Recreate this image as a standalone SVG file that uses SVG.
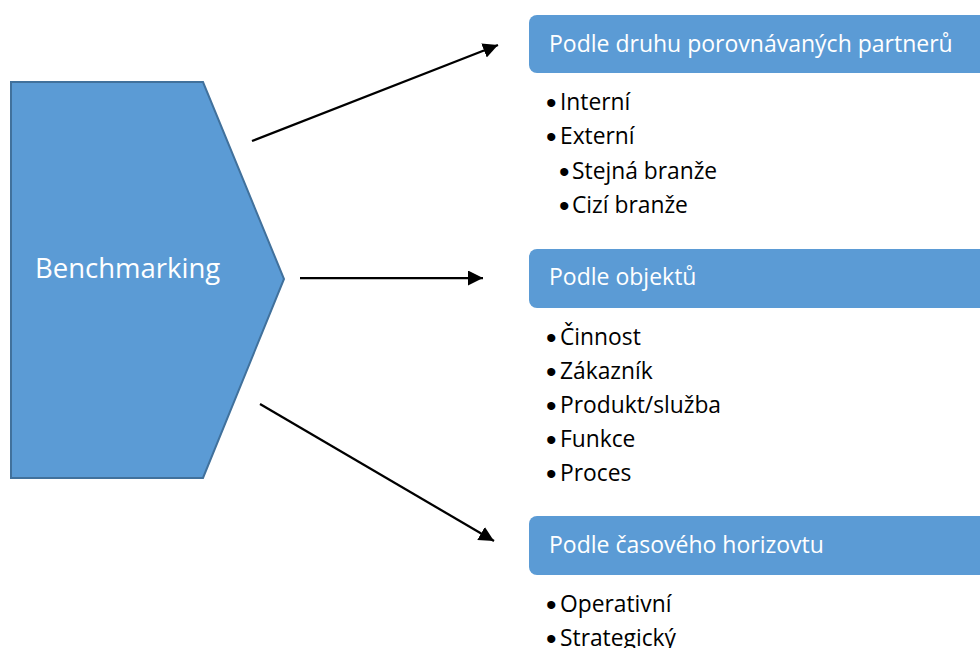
<svg xmlns="http://www.w3.org/2000/svg" width="980" height="648" viewBox="0 0 980 648">
  <defs>
    <marker id="arrowhead" markerUnits="userSpaceOnUse" markerWidth="16" markerHeight="16" refX="15" refY="7.5" orient="auto">
      <path d="M0,0 L15,7.5 L0,15 Z" fill="#000"/>
    </marker>
    <style>
      .shape { fill: #5B9BD5; }
      .main { stroke: #41719C; stroke-width: 2; }
      .head { font-family: "Open Sans", "Liberation Sans", sans-serif; font-size: 23px; fill: #FFFFFF; }
      .title { font-family: "Open Sans", "Liberation Sans", sans-serif; font-size: 27.5px; fill: #FFFFFF; }
      .item { font-family: "Open Sans", "Liberation Sans", sans-serif; font-size: 22.8px; fill: #000000; }
      .dot { font-family: "Liberation Sans", sans-serif; font-size: 30px; }
      .conn { stroke: #000; stroke-width: 2.25; fill: none; marker-end: url(#arrowhead); }
    </style>
  </defs>
  <rect width="980" height="648" fill="#FFFFFF"/>

  <!-- central chevron -->
  <g id="benchmarking">
    <polygon class="shape main" points="11,82 203,82 284,279 203,478 11,478"/>
    <text class="title" x="35" y="278">Benchmarking</text>
  </g>

  <!-- arrows -->
  <g id="connectors">
    <line class="conn" x1="252" y1="141" x2="498" y2="45"/>
    <line class="conn" x1="300" y1="278" x2="483" y2="278"/>
    <line class="conn" x1="260" y1="404" x2="494" y2="541"/>
  </g>

  <!-- category 1 -->
  <g id="partneri">
    <rect class="shape" x="529" y="15" width="470" height="58" rx="8"/>
    <text class="head" x="549" y="52">Podle druhu porovnávaných partnerů</text>
    <text class="item" y="110"><tspan class="dot" x="546" dy="2.5">•</tspan><tspan x="560" dy="-2.5">Interní</tspan></text>
    <text class="item" y="144"><tspan class="dot" x="546" dy="2.5">•</tspan><tspan x="560" dy="-2.5">Externí</tspan></text>
    <text class="item" y="179"><tspan class="dot" x="559" dy="2.5">•</tspan><tspan x="572" dy="-2.5">Stejná branže</tspan></text>
    <text class="item" y="213"><tspan class="dot" x="559" dy="2.5">•</tspan><tspan x="572" dy="-2.5">Cizí branže</tspan></text>
  </g>

  <!-- category 2 -->
  <g id="objekty">
    <rect class="shape" x="529" y="249" width="470" height="59" rx="8"/>
    <text class="head" x="549" y="285">Podle objektů</text>
    <text class="item" y="345"><tspan class="dot" x="546" dy="2.5">•</tspan><tspan x="560" dy="-2.5">Činnost</tspan></text>
    <text class="item" y="379"><tspan class="dot" x="546" dy="2.5">•</tspan><tspan x="560" dy="-2.5">Zákazník</tspan></text>
    <text class="item" y="413"><tspan class="dot" x="546" dy="2.5">•</tspan><tspan x="560" dy="-2.5">Produkt/služba</tspan></text>
    <text class="item" y="447"><tspan class="dot" x="546" dy="2.5">•</tspan><tspan x="560" dy="-2.5">Funkce</tspan></text>
    <text class="item" y="481"><tspan class="dot" x="546" dy="2.5">•</tspan><tspan x="560" dy="-2.5">Proces</tspan></text>
  </g>

  <!-- category 3 -->
  <g id="horizont">
    <rect class="shape" x="529" y="516" width="470" height="59" rx="8"/>
    <text class="head" x="549" y="553">Podle časového horizovtu</text>
    <text class="item" y="612"><tspan class="dot" x="546" dy="2.5">•</tspan><tspan x="560" dy="-2.5">Operativní</tspan></text>
    <text class="item" y="646"><tspan class="dot" x="546" dy="2.5">•</tspan><tspan x="560" dy="-2.5">Strategický</tspan></text>
  </g>
</svg>
